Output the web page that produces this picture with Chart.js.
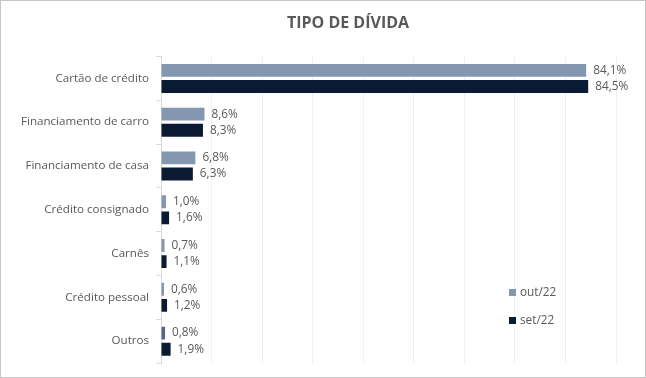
<!DOCTYPE html>
<html>
<head>
<meta charset="utf-8">
<script src="https://cdn.jsdelivr.net/npm/chart.js@4"></script>
<style>
  html, body { margin: 0; padding: 0; background: #fff; }
  #box { width: 644px; height: 376px; border: 1px solid #c6c6c6; position: relative; }
</style>
</head>
<body>
<div id="box"><canvas id="chart"></canvas></div>
<script>
const categories = ['Cartão de crédito', 'Financiamento de carro', 'Financiamento de casa', 'Crédito consignado', 'Carnês', 'Crédito pessoal', 'Outros'];
const out22 = [84.1, 8.6, 6.8, 1.0, 0.7, 0.6, 0.8];
const set22 = [84.5, 8.3, 6.3, 1.6, 1.1, 1.2, 1.9];
const seriesNames = ['out/22', 'set/22'];

const FONT = '"Open Sans", "Liberation Sans", sans-serif';
const GREY = '#595959';

const fmt = v => v.toFixed(1).replace('.', ',') + '%';

// title, value labels and the legend box inside the plot
const extras = {
    id: 'extras',
    afterDatasetsDraw(chart) {
        const ctx = chart.ctx;
        ctx.save();
        ctx.fillStyle = GREY;
        ctx.font = '11.8px ' + FONT;
        ctx.textBaseline = 'middle';
        ctx.textAlign = 'left';
        chart.data.datasets.forEach((ds, i) => {
            chart.getDatasetMeta(i).data.forEach((bar, j) => {
                ctx.fillText(fmt(ds.data[j]), bar.x + 7, bar.y);
            });
        });

        ctx.font = 'bold 16px ' + FONT;
        ctx.textAlign = 'center';
        ctx.fillText('TIPO DE DÍVIDA', 347, 22);

        ctx.font = '11.8px ' + FONT;
        ctx.textAlign = 'left';
        const ys = [292, 320];
        chart.data.datasets.forEach((ds, i) => {
            ctx.fillStyle = Array.isArray(ds.backgroundColor) ? ds.backgroundColor[0] : ds.backgroundColor;
            ctx.fillRect(508, ys[i] - 4, 7, 7);
            ctx.fillStyle = GREY;
            ctx.fillText(ds.label, 519, ys[i]);
        });
        ctx.restore();
    }
};

const outColors = out22.map((v, i) => i === categories.length - 1 ? '#53668F' : '#8497B0');

new Chart(document.getElementById('chart'), {
    type: 'bar',
    data: {
        labels: categories,
        datasets: [
            { label: seriesNames[0], data: out22, backgroundColor: outColors },
            { label: seriesNames[1], data: set22, backgroundColor: '#0B1A33' }
        ]
    },
    options: {
        indexAxis: 'y',
        responsive: true,
        maintainAspectRatio: false,
        animation: false,
        datasets: { bar: { categoryPercentage: 0.735, barPercentage: 0.8 } },
        layout: { padding: { top: 55.5, right: 29, bottom: 4.5, left: 0 } },
        plugins: {
            legend: { display: false },
            title: { display: false },
            tooltip: { enabled: false }
        },
        scales: {
            x: {
                min: 0,
                max: 90,
                ticks: { display: false, stepSize: 10 },
                grid: { color: '#f0f0f0', drawTicks: false },
                border: { display: false }
            },
            y: {
                afterFit(scale) { scale.width = 160; },
                ticks: { color: GREY, font: { family: FONT, size: 11.6 }, padding: 7 },
                grid: { drawOnChartArea: false, color: '#d9d9d9', tickLength: 5 },
                border: { color: '#d9d9d9' }
            }
        }
    },
    plugins: [extras]
});
</script>
</body>
</html>
